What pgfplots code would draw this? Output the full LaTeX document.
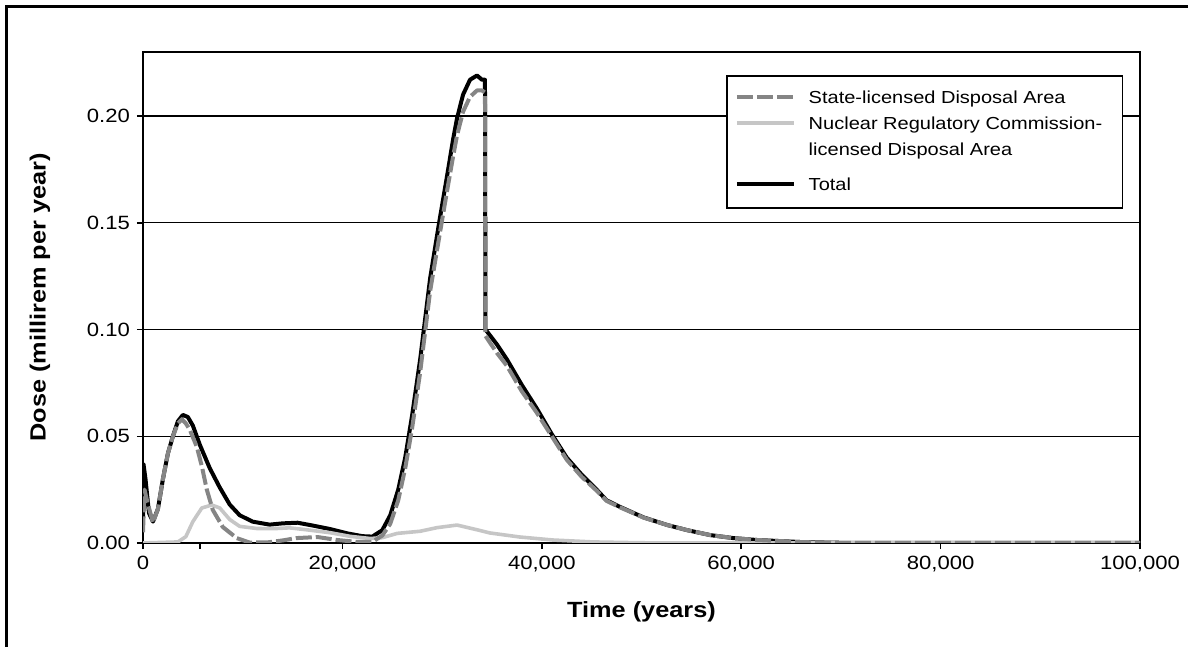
\documentclass[border=0pt]{standalone}
\usepackage{fontspec}
\setmainfont{Liberation Sans}[FakeStretch=1.15]
\usepackage{pgfplots}
\pgfplotsset{compat=1.18}
\definecolor{stategray}{HTML}{858585}
\definecolor{nrcgray}{HTML}{C6C6C6}

\begin{document}
\begin{tikzpicture}
\useasboundingbox (-71.5pt,-52pt) rectangle (522.5pt,271.5pt);
% frame of the figure (only top and left edges are visible)
\draw[line width=1.5pt] (-68pt,-52pt) -- (-68pt,268pt) -- (522.5pt,268pt);
\begin{axis}[
    at={(0pt,0pt)}, anchor=south west,
    scale only axis,
    width=498.5pt, height=245.5pt,
    xmin=0, xmax=100000,
    ymin=0, ymax=0.23,
    xtick={0,20000,40000,60000,80000,100000},
    ytick={0,0.05,0.10,0.15,0.20},
    extra x ticks={5700},
    extra x tick labels={},
    scaled x ticks=false, scaled y ticks=false,
    xticklabel style={/pgf/number format/.cd, fixed, 1000 sep={,}},
    yticklabel style={/pgf/number format/.cd, fixed, fixed zerofill, precision=2},
    /pgf/number format/assume math mode=true,
    ticklabel style={font=\fontsize{9.6}{11}\selectfont},
    tick align=outside,
    major tick length=3pt,
    xtick pos=bottom, ytick pos=left,
    tick style={black, line width=0.75pt},
    axis line style={line width=0.75pt},
    ymajorgrids=true,
    grid style={black, line width=0.6pt},
    xlabel={Time (years)},
    ylabel={Dose (millirem per year)},
    label style={font=\bfseries\fontsize{11}{13}\selectfont},
    xlabel style={at={(axis description cs:0.5,-0.1405)}, anchor=center},
    ylabel style={at={(axis description cs:-0.1033,0.5)}, anchor=center},
    reverse legend,
    legend image code/.code={\draw[#1] (0cm,3.1pt) -- (1.0cm,3.1pt);},
    legend style={at={(axis description cs:0.983,0.953)}, anchor=north east,
        draw=black, line width=0.75pt,
        font=\fontsize{8.7}{13.25}\selectfont,
        cells={anchor=base west, align=left},
        column sep=4.5pt,
        row sep=1pt, inner xsep=4pt, inner ysep=5.5pt},
]

% Total
\addplot[black, line width=2pt, line join=round] coordinates {
(0,0.012) (50,0.037) (250,0.030) (600,0.014) (1000,0.010) (1500,0.016)
(2000,0.030) (2500,0.042) (3000,0.050) (3500,0.057) (4000,0.060) (4500,0.059)
(5000,0.055) (5700,0.046) (6700,0.035) (7700,0.026) (8700,0.018) (9700,0.013)
(11000,0.010) (12700,0.0086) (14000,0.0092) (15500,0.0095) (17000,0.0082)
(18800,0.0065) (20500,0.0045) (22000,0.0032) (23000,0.0030) (24000,0.006)
(24800,0.013) (25600,0.025) (26300,0.040) (27000,0.060) (27800,0.086)
(28800,0.124) (29700,0.150) (30500,0.172) (31100,0.189) (31500,0.199)
(32100,0.210) (32800,0.217) (33500,0.219) (34000,0.217) (34300,0.217)
(34350,0.100) (35500,0.093) (36500,0.086) (38000,0.074) (39500,0.063)
(41000,0.051) (42500,0.040) (44000,0.032) (45500,0.025) (46500,0.020)
(47800,0.017) (50200,0.012) (52600,0.0084) (54600,0.006) (56900,0.0037)
(59200,0.0023) (61600,0.0014) (63900,0.0009) (66200,0.0004) (70000,0.0001)
(75000,0) (100000,0)
};
\addlegendentry{\rule{0pt}{10.8pt}Total}

% NRC-licensed
\addplot[nrcgray, line width=1.8pt, line join=round,
    legend image post style={yshift=13.25pt}] coordinates {
(0,0) (3500,0.0005) (4300,0.003) (5000,0.010) (5900,0.0164) (6900,0.0178)
(7700,0.0164) (8700,0.011) (9700,0.0078) (11400,0.0068) (13000,0.0067)
(14700,0.0071) (16400,0.0062) (18800,0.0048) (20800,0.0031) (22800,0.0021)
(24000,0.0025) (25500,0.0045) (27800,0.0055) (29500,0.0072) (31500,0.0084)
(33500,0.0062) (34800,0.0047) (37800,0.0028) (41100,0.0014) (45100,0.0005)
(50000,0.0001) (55000,0) (100000,0)
};
\addlegendentry{Nuclear Regulatory Commission-\rule{4pt}{0pt}\\licensed Disposal Area}

% State-licensed
\addplot[stategray, line width=2pt, dash pattern=on 8pt off 2pt, line join=round] coordinates {
(0,0.005) (150,0.025) (400,0.020) (1000,0.0095) (1500,0.016) (2000,0.030)
(2500,0.042) (3000,0.050) (3500,0.056) (3900,0.058) (4300,0.056) (4700,0.053)
(5400,0.045) (5900,0.036) (6400,0.025) (7000,0.0155) (8000,0.0075)
(9400,0.0023) (10700,0.0002) (12500,0.0003) (14000,0.0012) (15400,0.0023)
(17500,0.0028) (19500,0.0014) (21500,0.0005) (23000,0.0005) (24000,0.0035)
(24800,0.009) (25600,0.020) (26300,0.035) (27000,0.054) (27800,0.080)
(28800,0.118) (29700,0.143) (30500,0.165) (31100,0.181) (31500,0.191)
(32100,0.202) (32800,0.209) (33500,0.212) (34000,0.212) (34300,0.211)
(34350,0.097) (35500,0.089) (36500,0.083) (38000,0.071) (39500,0.061)
(41000,0.050) (42500,0.039) (44000,0.031) (45500,0.0245) (46500,0.0197)
(47800,0.0168) (50200,0.0119) (52600,0.0084) (54600,0.006) (56900,0.0037)
(59200,0.0023) (61600,0.0014) (63900,0.0009) (66200,0.0004) (70000,0.0001)
(75000,0) (100000,0)
};
\addlegendentry{State-licensed Disposal Area}

\end{axis}
\end{tikzpicture}
\end{document}
